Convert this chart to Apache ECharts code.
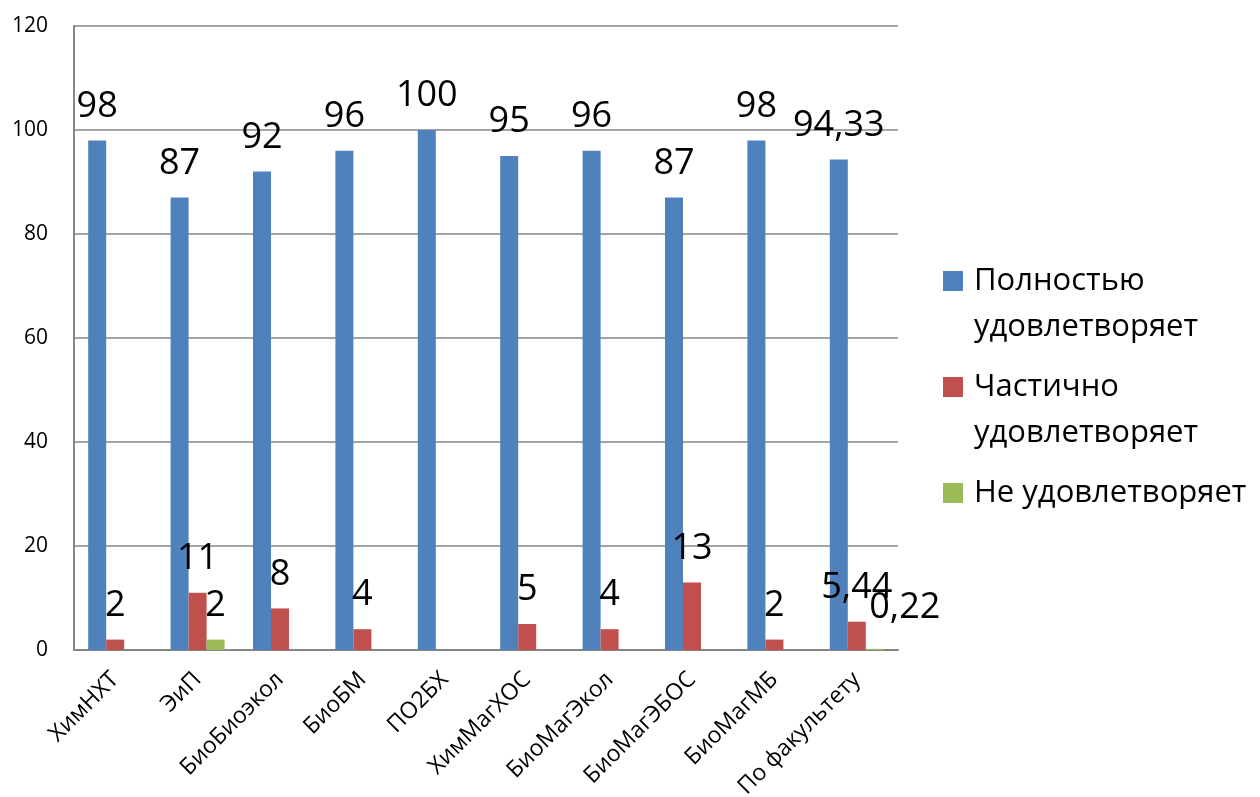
<!DOCTYPE html>
<html>
<head>
<meta charset="utf-8">
<script src="https://cdn.jsdelivr.net/npm/echarts@6/dist/echarts.min.js"></script>
<style>html,body{margin:0;padding:0;background:#fff;}#c{width:1260px;height:797px;}</style>
</head>
<body>
<div id="c"></div>
<script>
const categories = ['ХимНХТ','ЭиП','БиоБиоэкол','БиоБМ','ПО2БХ','ХимМагХОС','БиоМагЭкол','БиоМагЭБОС','БиоМагМБ','По факультету'];
const seriesNames = ['Полностью удовлетворяет','Частично удовлетворяет','Не удовлетворяет'];
const fullValues = [98, 87, 92, 96, 100, 95, 96, 87, 98, 94.33];
const partValues = [2, 11, 8, 4, 0, 5, 4, 13, 2, 5.44];
const noValues = [0, 2, 0, 0, 0, 0, 0, 0, 0, 0.22];
const yTicks = [0, 20, 40, 60, 80, 100, 120];

const FONT = 'Open Sans';
const colors = ['#4F81BD', '#C0504D', '#9BBB59'];
const fmt = p => (p.value ? String(p.value).replace('.', ',') : '');
const labelStyle = {
  show: true, position: 'top', distance: 16, formatter: fmt,
  fontFamily: FONT, fontSize: 36, lineHeight: 36, color: '#000'
};

function mk(i, vals) {
  return {
    name: seriesNames[i], type: 'bar', barWidth: 18, barGap: '0%',
    itemStyle: { color: colors[i] },
    label: labelStyle,
    data: vals.map((v, k) => {
      if (i === 2 && k === 9) {
        return { value: v, label: { offset: [30, -7] } };
      }
      return v;
    })
  };
}

const chart = echarts.init(document.getElementById('c'));
chart.setOption({
  animation: false,
  color: colors,
  grid: { left: 74, right: 362, top: 26, bottom: 147, outerBoundsMode: 'none', containLabel: false },
  legend: {
    orient: 'vertical', left: 943, top: 212, padding: 0,
    itemWidth: 20, itemHeight: 20, itemGap: -32,
    icon: 'rect',
    formatter: n => n === 'Не удовлетворяет' ? ' \nНе удовлетворяет\n ' :
      ' \n' + n.replace(' ', '\n'),
    textStyle: { fontFamily: FONT, fontSize: 31, lineHeight: 46, color: '#000', padding: [0, 0, 0, 6] },
    data: seriesNames
  },
  xAxis: {
    type: 'category', data: categories,
    axisLine: { lineStyle: { color: '#868686', width: 2 } },
    axisTick: { show: false },
    axisLabel: { rotate: 45, interval: 0, margin: 26, fontFamily: FONT, fontSize: 23, color: '#000' }
  },
  yAxis: {
    type: 'value', min: yTicks[0], max: yTicks[yTicks.length - 1], interval: 20,
    axisLine: { show: true, lineStyle: { color: '#868686', width: 2 } },
    axisTick: { show: false },
    splitLine: { lineStyle: { color: '#868686', width: 1.5 } },
    axisLabel: { margin: 26, fontFamily: FONT, fontSize: 21, color: '#000' }
  },
  series: [mk(0, fullValues), mk(1, partValues), mk(2, noValues)]
});
</script>
</body>
</html>
